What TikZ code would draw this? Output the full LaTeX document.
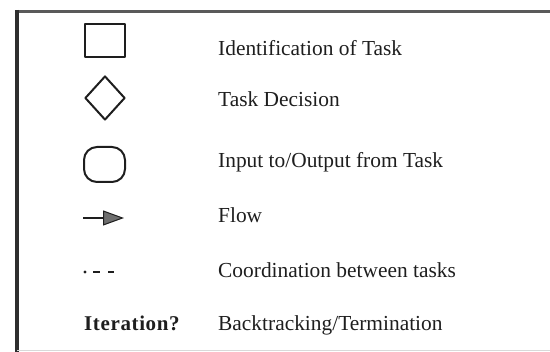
\documentclass[tikz,border=0pt]{standalone}
\usepackage{fontspec}
\setmainfont{Liberation Serif}
\newfontfamily\spacedbold[LetterSpace=3,BoldFont={Liberation Serif Bold}]{Liberation Serif}
\usetikzlibrary{shapes.geometric,arrows.meta}
\definecolor{ink}{HTML}{1E1E1E}
\definecolor{frameline}{HTML}{2E2E2E}
\definecolor{toprule}{HTML}{5A5A5A}
\definecolor{tipfill}{HTML}{6E6E6E}
\tikzset{
  symbol/.style={draw=ink, line width=2pt, line join=round, inner sep=0pt},
  label/.style={anchor=base west, text=ink, inner sep=0pt,
    font=\fontsize{21.4}{25}\selectfont},
  boldlabel/.style={label, font=\fontsize{21}{25}\spacedbold\bfseries},
}
\begin{document}
\begin{tikzpicture}[x=1pt,y=-1pt]
  \useasboundingbox (0,0) rectangle (550,352);
  % frame: heavy left edge, gray top rule, faint bottom
  \draw[toprule, line width=3pt] (16,11.5) -- (550,11.5);
  \draw[frameline, line width=4.5pt] (17,10) -- (17,352);
  \draw[black!15, line width=1pt] (17,350.5) -- (550,350.5);

  % symbols
  \node[symbol, rectangle, minimum width=40pt, minimum height=33pt] (task) at (105,40.5) {};
  \node[symbol, diamond, minimum width=40pt, minimum height=44pt] (decision) at (105,98) {};
  \node[symbol, rectangle, rounded corners=13pt, minimum width=41pt, minimum height=35pt] (io) at (104.5,164.5) {};
  \coordinate (flowA) at (83,218);
  \coordinate (flowB) at (124,218);
  \draw[ink, line width=1.3pt,
        -{Triangle[length=21pt,width=15pt,fill=tipfill,line width=1pt]}] (flowA) -- (flowB);
  \fill[ink] (85,272) circle (1.7pt);
  \fill[ink] (93,270.6) rectangle (100,273.4);
  \fill[ink] (108,270.6) rectangle (114,273.4);
  \node[boldlabel] (iter) at (84,331) {Iteration?};

  % descriptions
  \node[label] (t1) at (218,56) {Identification of Task};
  \node[label] (t2) at (218,107) {Task Decision};
  \node[label] (t3) at (218,168) {Input to/Output from Task};
  \node[label] (t4) at (218,223) {Flow};
  \node[label] (t5) at (218,278) {Coordination between tasks};
  \node[label] (t6) at (218,331) {Backtracking/Termination};
\end{tikzpicture}
\end{document}
